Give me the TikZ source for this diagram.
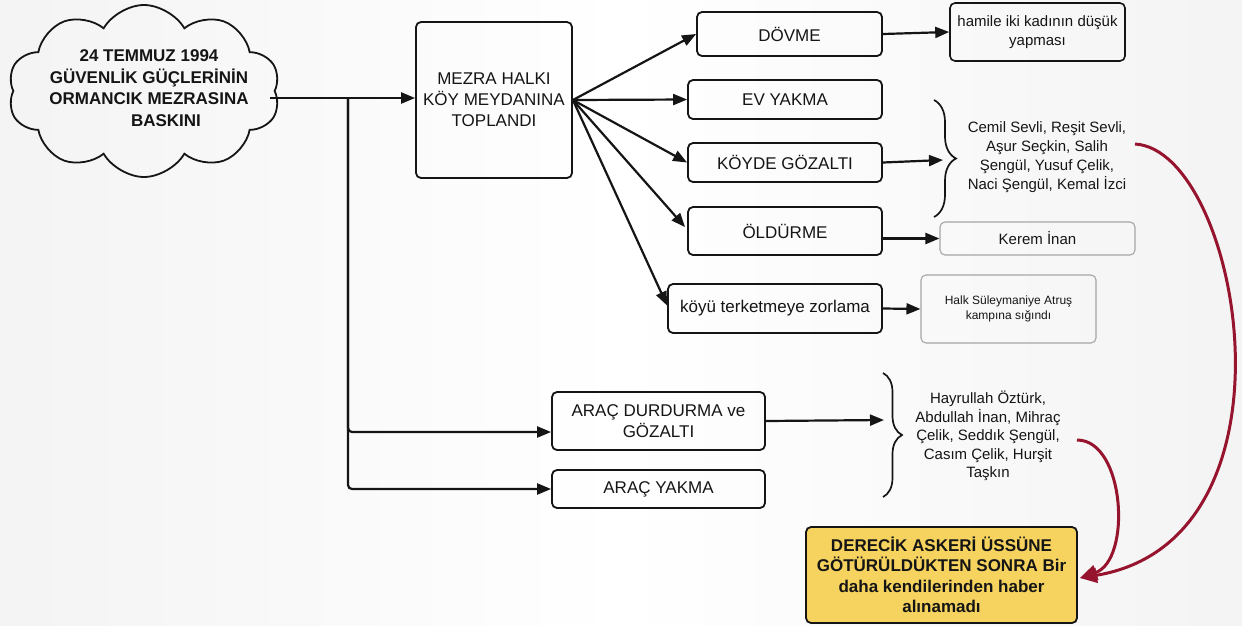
\documentclass[tikz,border=0pt]{standalone}
\usepackage{fontspec}
\setmainfont{Liberation Sans}
\usetikzlibrary{shapes.symbols,arrows.meta,decorations.pathreplacing,calc}
\definecolor{ink}{HTML}{151515}
\definecolor{redarr}{HTML}{96142D}
\definecolor{gold}{HTML}{F6D35E}
\begin{document}
\begin{tikzpicture}[x=1pt,y=-1pt,
  box/.style={draw=ink, line width=1.8pt, rounded corners=5pt, align=center, text=ink,
    font=\fontsize{17}{21}\selectfont, inner sep=0pt},
  lbox/.style={draw=gray!70, line width=1.1pt, rounded corners=5pt, align=center, text=ink, inner sep=0pt},
  arr/.style={draw=ink, line width=2.2pt, -{Triangle[length=14pt,width=11pt]}},
  rarr/.style={draw=redarr, line width=3pt, -{Triangle[length=17pt,width=15pt]}},
  brc/.style={draw=ink, line width=1.7pt, decorate},
  lbl/.style={align=center, text=ink, inner sep=0pt}]
\useasboundingbox (0,0) rectangle (1242,625);
\shade[left color=gray!9, right color=gray!9, middle color=white] (0,0) rectangle (1242,625);

% cloud
\node[cloud, draw=ink, line width=1.8pt, cloud puffs=10, cloud puff arc=120,
  cloud ignores aspect, minimum width=272pt, minimum height=172pt, inner sep=0pt] (cloud) at (144,91) {};
\node[lbl, font=\bfseries\fontsize{17}{21.5}\selectfont] (cloudtxt) at (149,88)
  {24 TEMMUZ 1994\\GÜVENLİK GÜÇLERİNİN\\ORMANCIK MEZRASINA\\\hspace*{34pt}BASKINI};

% main boxes
\node[box, minimum width=156pt, minimum height=156pt] (mezra) at (494,100) {MEZRA HALKI\\KÖY MEYDANINA\\TOPLANDI};
\node[box, minimum width=185pt, minimum height=44pt] (dovme) at (789.5,34) {DÖVME};
\node[box, minimum width=194pt, minimum height=39pt] (evyakma) at (785,99.5) {EV YAKMA};
\node[box, minimum width=194pt, minimum height=39pt] (koyde) at (785,162.5) {KÖYDE GÖZALTI};
\node[box, minimum width=194pt, minimum height=48pt] (oldurme) at (785,231) {ÖLDÜRME};
\node[box, minimum width=214pt, minimum height=49pt] (koyu) at (775,308.5) {köyü terketmeye zorlama};
\node[box, minimum width=213pt, minimum height=58pt] (arac1) at (658.5,421) {ARAÇ DURDURMA ve\\GÖZALTI};
\node[box, minimum width=213pt, minimum height=38pt] (arac2) at (658.5,489) {ARAÇ YAKMA};

% result boxes
\node[box, line width=1.6pt, minimum width=175pt, minimum height=58pt, font=\fontsize{15}{19}\selectfont] (hamile) at (1037.5,32) {hamile iki kadının düşük\\yapması};
\node[lbox, minimum width=195pt, minimum height=33pt, font=\fontsize{15}{19}\selectfont] (kerem) at (1037.5,238.5) {Kerem İnan};
\node[lbox, minimum width=175pt, minimum height=68pt, font=\fontsize{12}{15}\selectfont] (halk) at (1008.5,309) {Halk Süleymaniye Atruş\\kampına sığındı};
\node[box, fill=gold, minimum width=271pt, minimum height=96pt, font=\bfseries\fontsize{17}{20.5}\selectfont] (yellow) at (941.5,575)
  {DERECİK ASKERİ ÜSSÜNE\\GÖTÜRÜLDÜKTEN SONRA Bir\\daha kendilerinden haber\\alınamadı};

% name lists
\node[lbl, font=\fontsize{15}{19}\selectfont] (names1) at (1047,157)
  {Cemil Sevli, Reşit Sevli,\\Aşur Seçkin, Salih\\Şengül, Yusuf Çelik,\\Naci Şengül, Kemal İzci};
\node[lbl, font=\fontsize{15}{18.4}\selectfont] (names2) at (988,436)
  {Hayrullah Öztürk,\\Abdullah İnan, Mihraç\\Çelik, Seddık Şengül,\\Casım Çelik, Hurşit\\Taşkın};

% braces
\draw[brc, decoration={brace, amplitude=22pt, aspect=0.5}] (934,100) -- (934,217);
\draw[brc, decoration={brace, amplitude=19pt, aspect=0.5}] (883,373) -- (883,497);
\coordinate (b1) at (943,160);
\coordinate (b2) at (884,420);

% connectors
\coordinate (cl) at (270,98);
\coordinate (j) at (348,98);
\draw[arr] (cl) -- (cl -| mezra.west);
\draw[arr, rounded corners=4pt] (j) |- ($(arac1.west)+(0,11)$);
\draw[arr, rounded corners=4pt] (j) |- (arac2.west);

\draw[arr] (mezra.east) -- (dovme.west);
\draw[arr] (mezra.east) -- (evyakma.west);
\draw[arr] (mezra.east) -- (koyde.west);
\draw[arr] (mezra.east) -- ($(oldurme.north west)+(-2,21)$);
\draw[arr] (mezra.east) -- ($(koyu.west)+(0,-3)$);

\draw[arr] (dovme.east) -- (hamile.west);
\draw[arr] (koyde.east) -- (b1);
\draw[arr] (oldurme.east |- kerem.west) -- (kerem.west);
\draw[arr] (koyu.east) -- (halk.west);
\draw[arr] (arac1.east) -- (b2);

% red curves
\coordinate (r1) at (1135,144);
\coordinate (r2) at (1077,440);
\draw[rarr] (r1) .. controls (1240,150) and (1310,540) .. ($(yellow.east)+(2,3)$);
\draw[rarr] (r2) .. controls (1125,440) and (1132,560) .. ($(yellow.east)+(2,3)$);
\end{tikzpicture}
\end{document}
